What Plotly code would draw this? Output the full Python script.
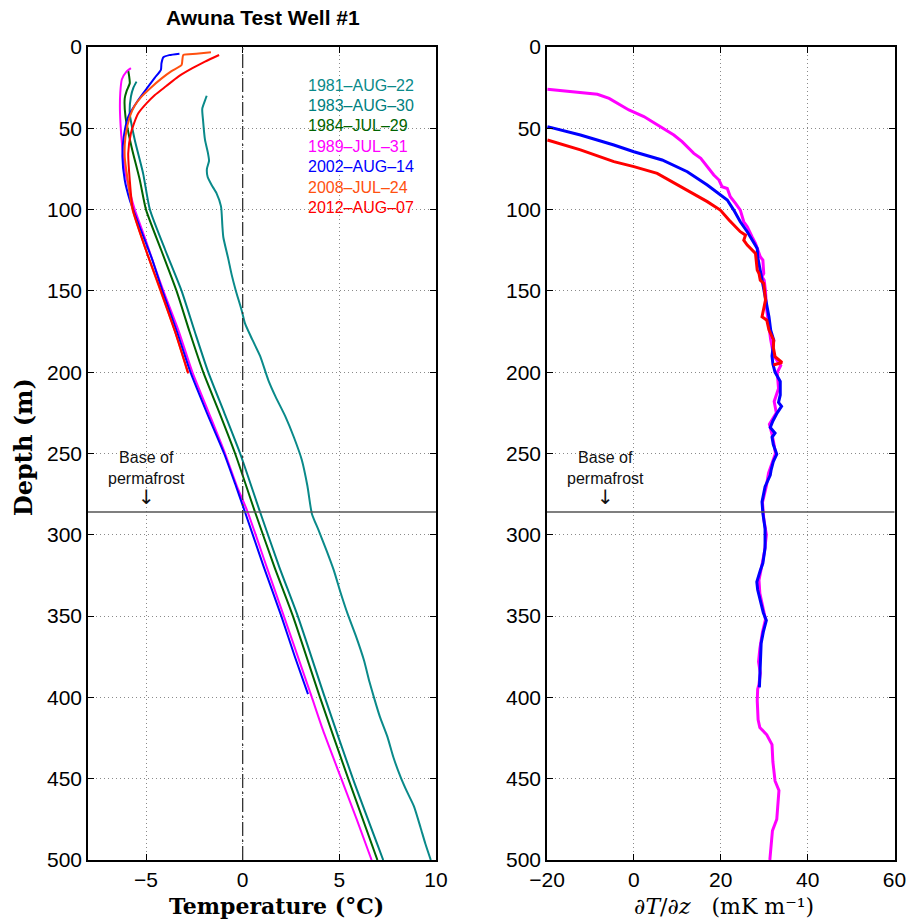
import plotly.graph_objects as go

# ---------------- data: temperature profiles (left panel) ----------------
d1981 = [30, 33, 38, 45, 57, 65, 70, 75, 80, 85, 90, 98, 110, 117, 130, 140, 150, 162, 170, 180, 190, 205,
         215, 227, 240, 254, 270, 287, 297, 310, 322, 335, 348, 362, 377, 390, 400, 412, 424, 437, 449, 458,
         467, 480, 490, 500]
t1981 = [-1.86, -1.95, -2.09, -2.05, -1.95, -1.8, -1.74, -1.85, -1.81, -1.6, -1.35, -1.12, -1.05, -1.0,
         -0.75, -0.57, -0.35, -0.05, 0.12, 0.5, 0.9, 1.33, 1.7, 2.2, 2.65, 3.06, 3.35, 3.58, 3.92, 4.35,
         4.72, 5.05, 5.41, 5.85, 6.27, 6.55, 6.79, 7.1, 7.48, 7.8, 8.17, 8.5, 8.86, 9.2, 9.45, 9.73]

d1983 = [21.3, 25, 30.5, 40.8, 57.2, 77.7, 100, 125, 150, 175, 200, 225, 250, 286, 320, 350, 400, 450, 500]
t1983 = [-5.49, -5.65, -5.78, -5.84, -5.58, -5.15, -4.8, -4.0, -3.16, -2.48, -1.78, -0.95, -0.13, 0.9,
         1.9, 2.85, 4.25, 5.7, 7.27]

d1984 = [14.6, 18, 22.3, 27, 31.6, 42.9, 61.3, 81.8, 100, 125, 150, 175, 200, 225, 250, 286, 320, 350,
         400, 450, 500]
t1984 = [-5.92, -5.87, -5.84, -6.0, -6.1, -6.06, -5.75, -5.32, -5.0, -4.21, -3.42, -2.75, -2.04, -1.2,
         -0.39, 0.64, 1.65, 2.6, 4.0, 5.46, 6.97]

d1989 = [13, 15, 20, 28, 37, 47, 57, 67, 78, 90, 100, 110, 120, 135, 150, 175, 200, 225, 250, 270, 286,
         320, 350, 380, 400, 420, 450, 475, 500]
t1989 = [-5.78, -6.0, -6.25, -6.33, -6.35, -6.32, -6.26, -6.18, -6.05, -5.82, -5.58, -5.28, -4.98, -4.55,
         -4.1, -3.3, -2.6, -1.75, -0.91, -0.3, 0.26, 1.25, 2.13, 3.0, 3.58, 4.15, 5.1, 5.9, 6.67]

d2002 = [4.1, 5, 6.3, 10, 14.1, 19, 24.4, 32.6, 42.9, 55.2, 67.5, 81.8, 94, 110, 130, 150, 175, 200, 225,
         250, 270, 286, 320, 350, 375, 398]
t2002 = [-3.27, -3.8, -4.1, -4.2, -4.23, -4.55, -4.89, -5.4, -5.92, -6.15, -6.22, -6.1, -5.84, -5.35,
         -4.7, -4.15, -3.4, -2.7, -1.85, -0.96, -0.35, 0.12, 1.1, 2.0, 2.7, 3.38]

d2008 = [3.3, 4.2, 4.9, 8, 11.1, 15, 19.3, 25, 30.5, 36, 42.9, 55, 67.5, 83.7, 100, 125, 150, 175, 200]
t2008 = [-1.64, -2.4, -3.07, -3.12, -3.16, -3.7, -4.19, -4.75, -5.23, -5.58, -5.84, -6.06, -6.1, -5.92,
         -5.7, -5.0, -4.25, -3.5, -2.85]

d2012 = [4.9, 9, 13, 18.2, 24, 29.5, 35, 40.8, 47, 53.1, 65.4, 81.8, 100, 125, 150, 175, 200.7]
t2012 = [-1.22, -1.95, -2.6, -3.33, -3.95, -4.54, -5.0, -5.4, -5.62, -5.78, -5.92, -5.84, -5.68, -5.0,
         -4.23, -3.5, -2.81]

# ---------------- data: temperature gradients (right panel) ----------------
gd1989 = [26.0, 29.1, 31.6, 34.6, 38.7, 42.8, 48.0, 54.1, 58.2, 65.4, 68.5, 73.6, 78.7, 81.8, 85.9, 87.0,
          92.1, 96.2, 100.3, 107.5, 110.5, 116.7, 120.8, 129.0, 131.1, 139.3, 141.3, 143.4, 150, 160, 170,
          180, 190, 196, 200, 210, 218, 225, 232, 238, 245, 250, 256, 262, 270, 280, 290, 300, 310, 320,
          328, 336, 345, 352, 360, 370, 378, 385, 392, 395, 402, 413.8, 418.5, 423, 429, 439.6, 451.4,
          457.2, 467.8, 474.9, 482, 491.3, 500]
g1989 = [-19.9, -8.4, -5.7, -3.8, -1.15, 2.3, 5.37, 9.2, 11.1, 13.8, 15.4, 16.9, 18.4, 19.6, 20.3, 21.5,
         22.2, 23.4, 24.5, 25.3, 26.1, 27.2, 28.0, 29.1, 29.7, 29.9, 29.5, 30.0, 30.3, 30.5, 31.0, 31.5,
         32.2, 33.8, 33.0, 33.3, 32.3, 32.8, 31.2, 31.8, 32.3, 32.6, 31.8, 31.0, 30.5, 29.6, 29.9, 30.5,
         30.1, 29.3, 28.8, 29.0, 29.8, 30.3, 29.6, 29.0, 28.7, 29.1, 28.8, 28.5, 28.4, 28.6, 29.0, 30.6,
         31.8, 32.0, 32.5, 33.4, 33.1, 32.9, 31.9, 31.6, 31.3]

gd2002 = [49.0, 54.1, 60.3, 64.4, 69.5, 76.7, 84.9, 90.0, 94.1, 100.3, 107.5, 113.6, 118.8, 123.9, 129.0,
          137.2, 143.4, 149.5, 159.8, 165.9, 174.1, 180.3, 183.4, 190, 195, 200, 205.7, 214, 218.6, 221,
          225, 230, 234, 237.5, 240, 244.5, 250.4, 255, 260, 263.3, 270.4, 279.8, 286.8, 296.2, 308,
          317.4, 322, 329, 333.8, 340.9, 347.9, 352.6, 359.7, 366.7, 378.5, 387.9, 393.8]
g2002 = [-19.9, -12.3, -4.6, 0.0, 6.5, 12.3, 16.9, 19.6, 21.5, 23.0, 24.5, 26.1, 27.2, 28.4, 28.5, 29.1,
         29.5, 29.9, 30.7, 31.1, 31.5, 32.2, 32.1, 31.8, 32.0, 32.5, 33.7, 33.7, 33.3, 34.0, 33.0, 32.0,
         31.4, 32.5, 31.8, 32.1, 32.9, 32.1, 31.6, 31.4, 30.2, 29.5, 29.7, 30.2, 30.2, 29.7, 29.1, 28.3,
         28.5, 29.2, 29.8, 30.5, 29.8, 29.3, 29.2, 29.0, 28.9]

gd2012 = [57.2, 63.3, 70.5, 73.6, 77.7, 85.9, 95.1, 100.3, 106.4, 113.6, 115.7, 118.8, 121.8, 127.0,
          137.2, 139.3, 143.4, 145.4, 155.7, 165.9, 168.0, 174.1, 180.3, 184.6, 190.4, 194.0, 195.6]
g2012 = [-19.9, -12.3, -4.6, 0.0, 5.37, 10.7, 16.9, 19.9, 21.9, 24.5, 25.7, 25.3, 26.1, 28.0, 28.4, 28.8,
         29.1, 29.9, 30.3, 29.5, 30.6, 31.1, 32.2, 32.1, 32.5, 34.1, 32.1]

# ---------------- labels ----------------
series_labels = ["1981–AUG–22", "1983–AUG–30", "1984–JUL–29", "1989–JUL–31",
                 "2002–AUG–14", "2008–JUL–24", "2012–AUG–07"]
series_colors = ["#0a8a8a", "#008080", "#006400", "#ff00ff", "#0000ff", "#ff5010", "#ff0000"]
legend_depths = [23.4, 35.7, 48.0, 61.0, 73.2, 86.1, 99.0]
left_xticks = [-5, 0, 5, 10]
right_xticks = [-20, 0, 20, 40, 60]
depth_ticks = [0, 50, 100, 150, 200, 250, 300, 350, 400, 450, 500]
permafrost_depth = 286

W, H = 909, 919
fig = go.Figure()

left_series = [(t1981, d1981), (t1983, d1983), (t1984, d1984), (t1989, d1989),
               (t2002, d2002), (t2008, d2008), (t2012, d2012)]
for (t, d), c, lab in zip(left_series, series_colors, series_labels):
    fig.add_trace(go.Scatter(x=t, y=d, mode="lines", line=dict(color=c, width=2, shape="spline",
                                                              smoothing=0.6),
                             name=lab, xaxis="x", yaxis="y", showlegend=False))

right_series = [(g1989, gd1989, series_colors[3]), (g2002, gd2002, series_colors[4]),
                (g2012, gd2012, series_colors[6])]
for g, d, c in right_series:
    fig.add_trace(go.Scatter(x=g, y=d, mode="lines", line=dict(color=c, width=3),
                             xaxis="x2", yaxis="y2", showlegend=False))

tickfont = dict(family="Liberation Sans, Arial, sans-serif", size=21, color="black")
common = dict(showline=True, linecolor="black", linewidth=1.5, mirror="ticks", ticks="inside",
              ticklen=6, tickcolor="black", tickwidth=1, showgrid=True, gridcolor="#8a8a8a",
              gridwidth=1, griddash="1px,3px", zeroline=False, tickfont=tickfont, automargin=False)

fig.update_layout(
    template="none",
    width=W, height=H, margin=dict(l=0, r=0, t=0, b=0, pad=0, autoexpand=False),
    paper_bgcolor="white", plot_bgcolor="white",
    xaxis=dict(domain=[88 / W, 436 / W], range=[-8, 10], tickvals=left_xticks, anchor="y", **common),
    yaxis=dict(domain=[1 - 860 / H, 1 - 47 / H], range=[500, 0], tickvals=depth_ticks, anchor="x", **common),
    xaxis2=dict(domain=[547 / W, 894.5 / W], range=[-20, 60], tickvals=right_xticks, anchor="y2", **common),
    yaxis2=dict(domain=[1 - 860 / H, 1 - 47 / H], range=[500, 0], tickvals=depth_ticks, anchor="x2", **common),
)

shapes = []
for xr, yr in [("x", "y"), ("x2", "y2")]:
    shapes.append(dict(type="line", xref=xr + " domain", yref=yr, x0=0, x1=1,
                       y0=permafrost_depth, y1=permafrost_depth, line=dict(color="#555555", width=1.5)))
shapes.append(dict(type="line", xref="x", yref="y domain", x0=0, x1=0, y0=0, y1=1,
                   line=dict(color="#333333", width=1.3, dash="14px,4px,2px,4px")))
fig.update_layout(shapes=shapes)

ann = []
legfont = "Liberation Sans, Arial, sans-serif"
for lab, c, dep in zip(series_labels, series_colors, legend_depths):
    ann.append(dict(x=3.25, y=dep, xref="x", yref="y", text=lab, showarrow=False, xanchor="left",
                    yanchor="middle", font=dict(family=legfont, size=16, color=c)))
for xr, yr, xv in [("x", "y", -5), ("x2", "y2", -6.6)]:
    ann.append(dict(x=xv, y=259, xref=xr, yref=yr, text="Base of<br>permafrost",
                    showarrow=False, xanchor="center", yanchor="middle",
                    font=dict(family=legfont, size=16, color="#111111")))
    ann.append(dict(x=xv, y=permafrost_depth - 0.5, xref=xr, yref=yr, text="↓",
                    showarrow=False, xanchor="center", yanchor="bottom",
                    font=dict(family="DejaVu Sans, sans-serif", size=20, color="#111111")))
ann.append(dict(x=263 / W, y=1 - 18 / H, xref="paper", yref="paper", text="<b>Awuna Test Well #1</b>",
                showarrow=False, xanchor="center", yanchor="middle",
                font=dict(family=legfont, size=21, color="black")))
ann.append(dict(x=276 / W, y=1 - 906 / H, xref="paper", yref="paper", text="<b>Temperature (°C)</b>",
                showarrow=False, xanchor="center", yanchor="middle",
                font=dict(family="DejaVu Serif, serif", size=22, color="black")))
ann.append(dict(x=724 / W, y=1 - 906 / H, xref="paper", yref="paper",
                text="∂<i>T</i>/∂<i>z</i>   (mK m⁻¹)",
                showarrow=False, xanchor="center", yanchor="middle",
                font=dict(family="DejaVu Serif, serif", size=22, color="black")))
ann.append(dict(x=23 / W, y=1 - 447 / H, xref="paper", yref="paper", text="<b>Depth (m)</b>",
                showarrow=False, xanchor="center", yanchor="middle", textangle=-90,
                font=dict(family="DejaVu Serif, serif", size=24, color="black")))
fig.update_layout(annotations=ann)

fig.write_html("out.html")
